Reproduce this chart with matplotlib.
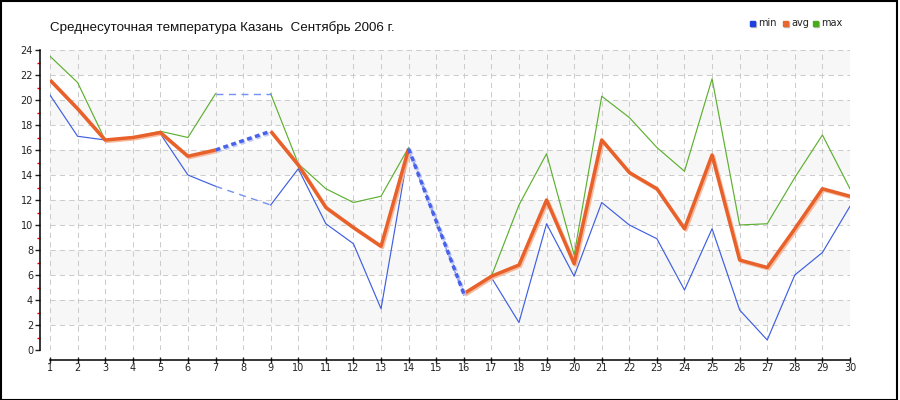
import matplotlib
matplotlib.use('Agg')
import matplotlib.pyplot as plt
import numpy as np
from matplotlib.patches import Rectangle
import matplotlib.patheffects as pe

nan = float('nan')
days = list(range(1, 31))
t_min = [20.4, 17.1, 16.8, 17.0, 17.3, 14.0, 13.1, nan, 11.6, 14.5,
         10.1, 8.5, 3.3, 16.0, nan, 4.4, 5.8, 2.2, 10.1, 5.9,
         11.8, 10.0, 8.9, 4.8, 9.7, 3.2, 0.8, 6.0, 7.8, 11.5]
t_avg = [21.6, 19.3, 16.8, 17.0, 17.4, 15.5, 16.0, nan, 17.5, 14.8,
         11.4, 9.8, 8.3, 16.1, nan, 4.5, 5.9, 6.8, 12.0, 6.9,
         16.8, 14.2, 12.9, 9.7, 15.6, 7.2, 6.6, 9.7, 12.9, 12.3]
t_max = [23.5, 21.4, 16.8, 17.0, 17.5, 17.0, 20.5, nan, 20.5, 14.9,
         12.9, 11.8, 12.3, 16.2, nan, 4.6, 5.9, 11.6, 15.7, 7.6,
         20.3, 18.6, 16.2, 14.3, 21.7, 10.0, 10.1, 13.8, 17.2, 12.9]
y_ticks = list(range(0, 25, 2))
title = "Среднесуточная температура Казань  Сентябрь 2006 г."
series_names = ["min", "avg", "max"]

c_min = '#3F5FE0'
c_avg = '#E8602A'
c_max = '#5DB030'
c_gap = '#4A62EA'

W, H = 900, 400
fig = plt.figure(figsize=(9, 4), dpi=100)
ax = fig.add_axes([50 / W, 50 / H, 800 / W, 300 / H])
ax.set_xlim(1, 30)
ax.set_ylim(0, 24)

# bands
for lo in range(2, 24, 4):
    ax.axhspan(lo, lo + 2, color='#F7F7F7', zorder=0, lw=0)

# grid
for d in days:
    ax.axvline(d, color='#CCCCCC', lw=0.75, ls=(0, (5, 4)), zorder=1)
for v in y_ticks:
    ax.axhline(v, color='#CCCCCC', lw=0.75, ls=(0, (5, 4)), zorder=1)

x = np.array(days, float)


def gap_pairs(y):
    y = np.asarray(y, float)
    valid = np.where(~np.isnan(y))[0]
    return [(a, b) for a, b in zip(valid[:-1], valid[1:]) if b - a > 1]


ymin = np.array(t_min, float)
yavg = np.array(t_avg, float)
ymax = np.array(t_max, float)

# thin lines
ax.plot(x, ymin, color=c_min, lw=0.85, zorder=3)
ax.plot(x, ymax, color=c_max, lw=0.85, zorder=3)
for y in (ymin, ymax):
    for a, b in gap_pairs(y):
        ax.plot([x[a], x[b]], [y[a], y[b]], color='#7390F2', lw=1.0,
                ls=(0, (5, 4)), zorder=3)

# avg thick
ax.plot(x, yavg, color=c_avg, lw=2.5, zorder=4, solid_capstyle='butt',
        path_effects=[pe.SimpleLineShadow(offset=(1, -1), shadow_color='#F5B596', alpha=0.9),
                      pe.Normal()])
for a, b in gap_pairs(yavg):
    ax.plot([x[a], x[b]], [yavg[a], yavg[b]], color=c_gap, lw=2.5,
            ls=(0, (1.4, 1.0)), zorder=5,
            path_effects=[pe.SimpleLineShadow(offset=(1, -1), shadow_color='#B8C4F5', alpha=0.9),
                          pe.Normal()])

# spines / ticks
for s in ('top', 'right'):
    ax.spines[s].set_visible(False)
ax.spines['left'].set_position(('outward', 7.2))
ax.spines['bottom'].set_position(('outward', 7.2))
ax.spines['left'].set_linewidth(1.1)
ax.spines['bottom'].set_linewidth(1.1)
ax.set_yticks(y_ticks)
ax.set_yticklabels([str(v) for v in y_ticks])
ax.set_yticks(list(range(1, 24, 2)), minor=True)
ax.tick_params(axis='y', which='major', length=3.5, width=1, pad=1.5, labelsize=7, colors='#222222')
ax.tick_params(axis='y', which='minor', length=2.5, width=1, color='#E00000')
ax.set_xticks(days)
ax.set_xticklabels([str(d) for d in days])
ax.tick_params(axis='x', which='major', length=4, width=1, pad=0.5, labelsize=7, colors='#222222',
               direction='inout')

# title
fig.text(50 / W, 1 - 28 / H, title, fontsize=9.6, family='Liberation Sans',
         va='center', ha='left', color='#111111')

# legend
leg_x = [750, 783, 813]
leg_c = ['#1E40E0', '#E8662F', '#4AAA1A']
for lx, lc, name in zip(leg_x, leg_c, series_names):
    fig.patches.append(Rectangle(((lx + 1) / W, 1 - 27 / H), 5 / W, 5 / H,
                                 transform=fig.transFigure, color='#BBBBBB', zorder=1))
    fig.patches.append(Rectangle((lx / W, 1 - 26 / H), 5 / W, 5 / H,
                                 transform=fig.transFigure, color=lc, zorder=2))
    fig.text((lx + 8) / W, 1 - 23 / H, name, fontsize=7, va='center', ha='left',
             color='#222222', family='DejaVu Sans')

# border
fig.patches.append(Rectangle((0.5 / W, 0.5 / H), 896 / W, 398.5 / H, transform=fig.transFigure,
                             fill=False, edgecolor='black', lw=1.5, zorder=10))

fig.savefig('out.png', dpi=100)
